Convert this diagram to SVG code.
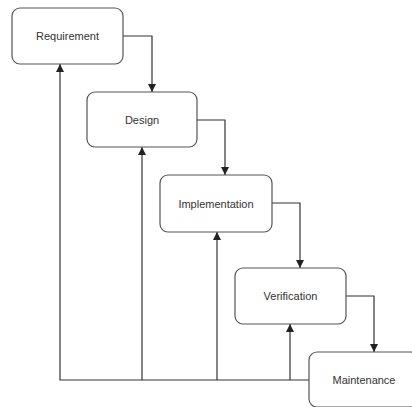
<svg xmlns="http://www.w3.org/2000/svg" width="412" height="407" viewBox="0 0 412 407">
<defs>
<marker id="ah" markerWidth="8" markerHeight="8" refX="8" refY="4" orient="auto" markerUnits="userSpaceOnUse">
<path d="M0,0 L8,4 L0,8 Z" fill="#222"/>
</marker>
<style>
.box{fill:#fff;stroke:#555;stroke-width:1.2}
.lbl{font-family:"Liberation Sans",Arial,sans-serif;font-size:11px;fill:#333;text-anchor:middle;dominant-baseline:central}
.edge{fill:none;stroke:#333;stroke-width:1.2}
</style>
</defs>
<rect width="412" height="407" fill="#fff"/>
<g id="connectors">
<path class="edge" d="M123,36 H152 V92" marker-end="url(#ah)"/>
<path class="edge" d="M197,120 H225 V175" marker-end="url(#ah)"/>
<path class="edge" d="M272,203 H300 V268" marker-end="url(#ah)"/>
<path class="edge" d="M346,296 H374 V352" marker-end="url(#ah)"/>
<path class="edge" d="M309,380 H60 V64" marker-end="url(#ah)"/>
<path class="edge" d="M142,380 V147" marker-end="url(#ah)"/>
<path class="edge" d="M217,380 V232" marker-end="url(#ah)"/>
<path class="edge" d="M290,380 V324" marker-end="url(#ah)"/>
</g>
<g id="requirement">
<rect class="box" x="12" y="8" width="111" height="56" rx="8"/>
<text class="lbl" x="67.5" y="36">Requirement</text>
</g>
<g id="design">
<rect class="box" x="87" y="92" width="110" height="55" rx="8"/>
<text class="lbl" x="142" y="119.5">Design</text>
</g>
<g id="implementation">
<rect class="box" x="160" y="175" width="112" height="57" rx="8"/>
<text class="lbl" x="216" y="203.5">Implementation</text>
</g>
<g id="verification">
<rect class="box" x="235" y="268" width="111" height="56" rx="8"/>
<text class="lbl" x="290.5" y="296">Verification</text>
</g>
<g id="maintenance">
<rect class="box" x="309" y="352" width="110" height="55" rx="8"/>
<text class="lbl" x="364" y="379.5">Maintenance</text>
</g>
</svg>
